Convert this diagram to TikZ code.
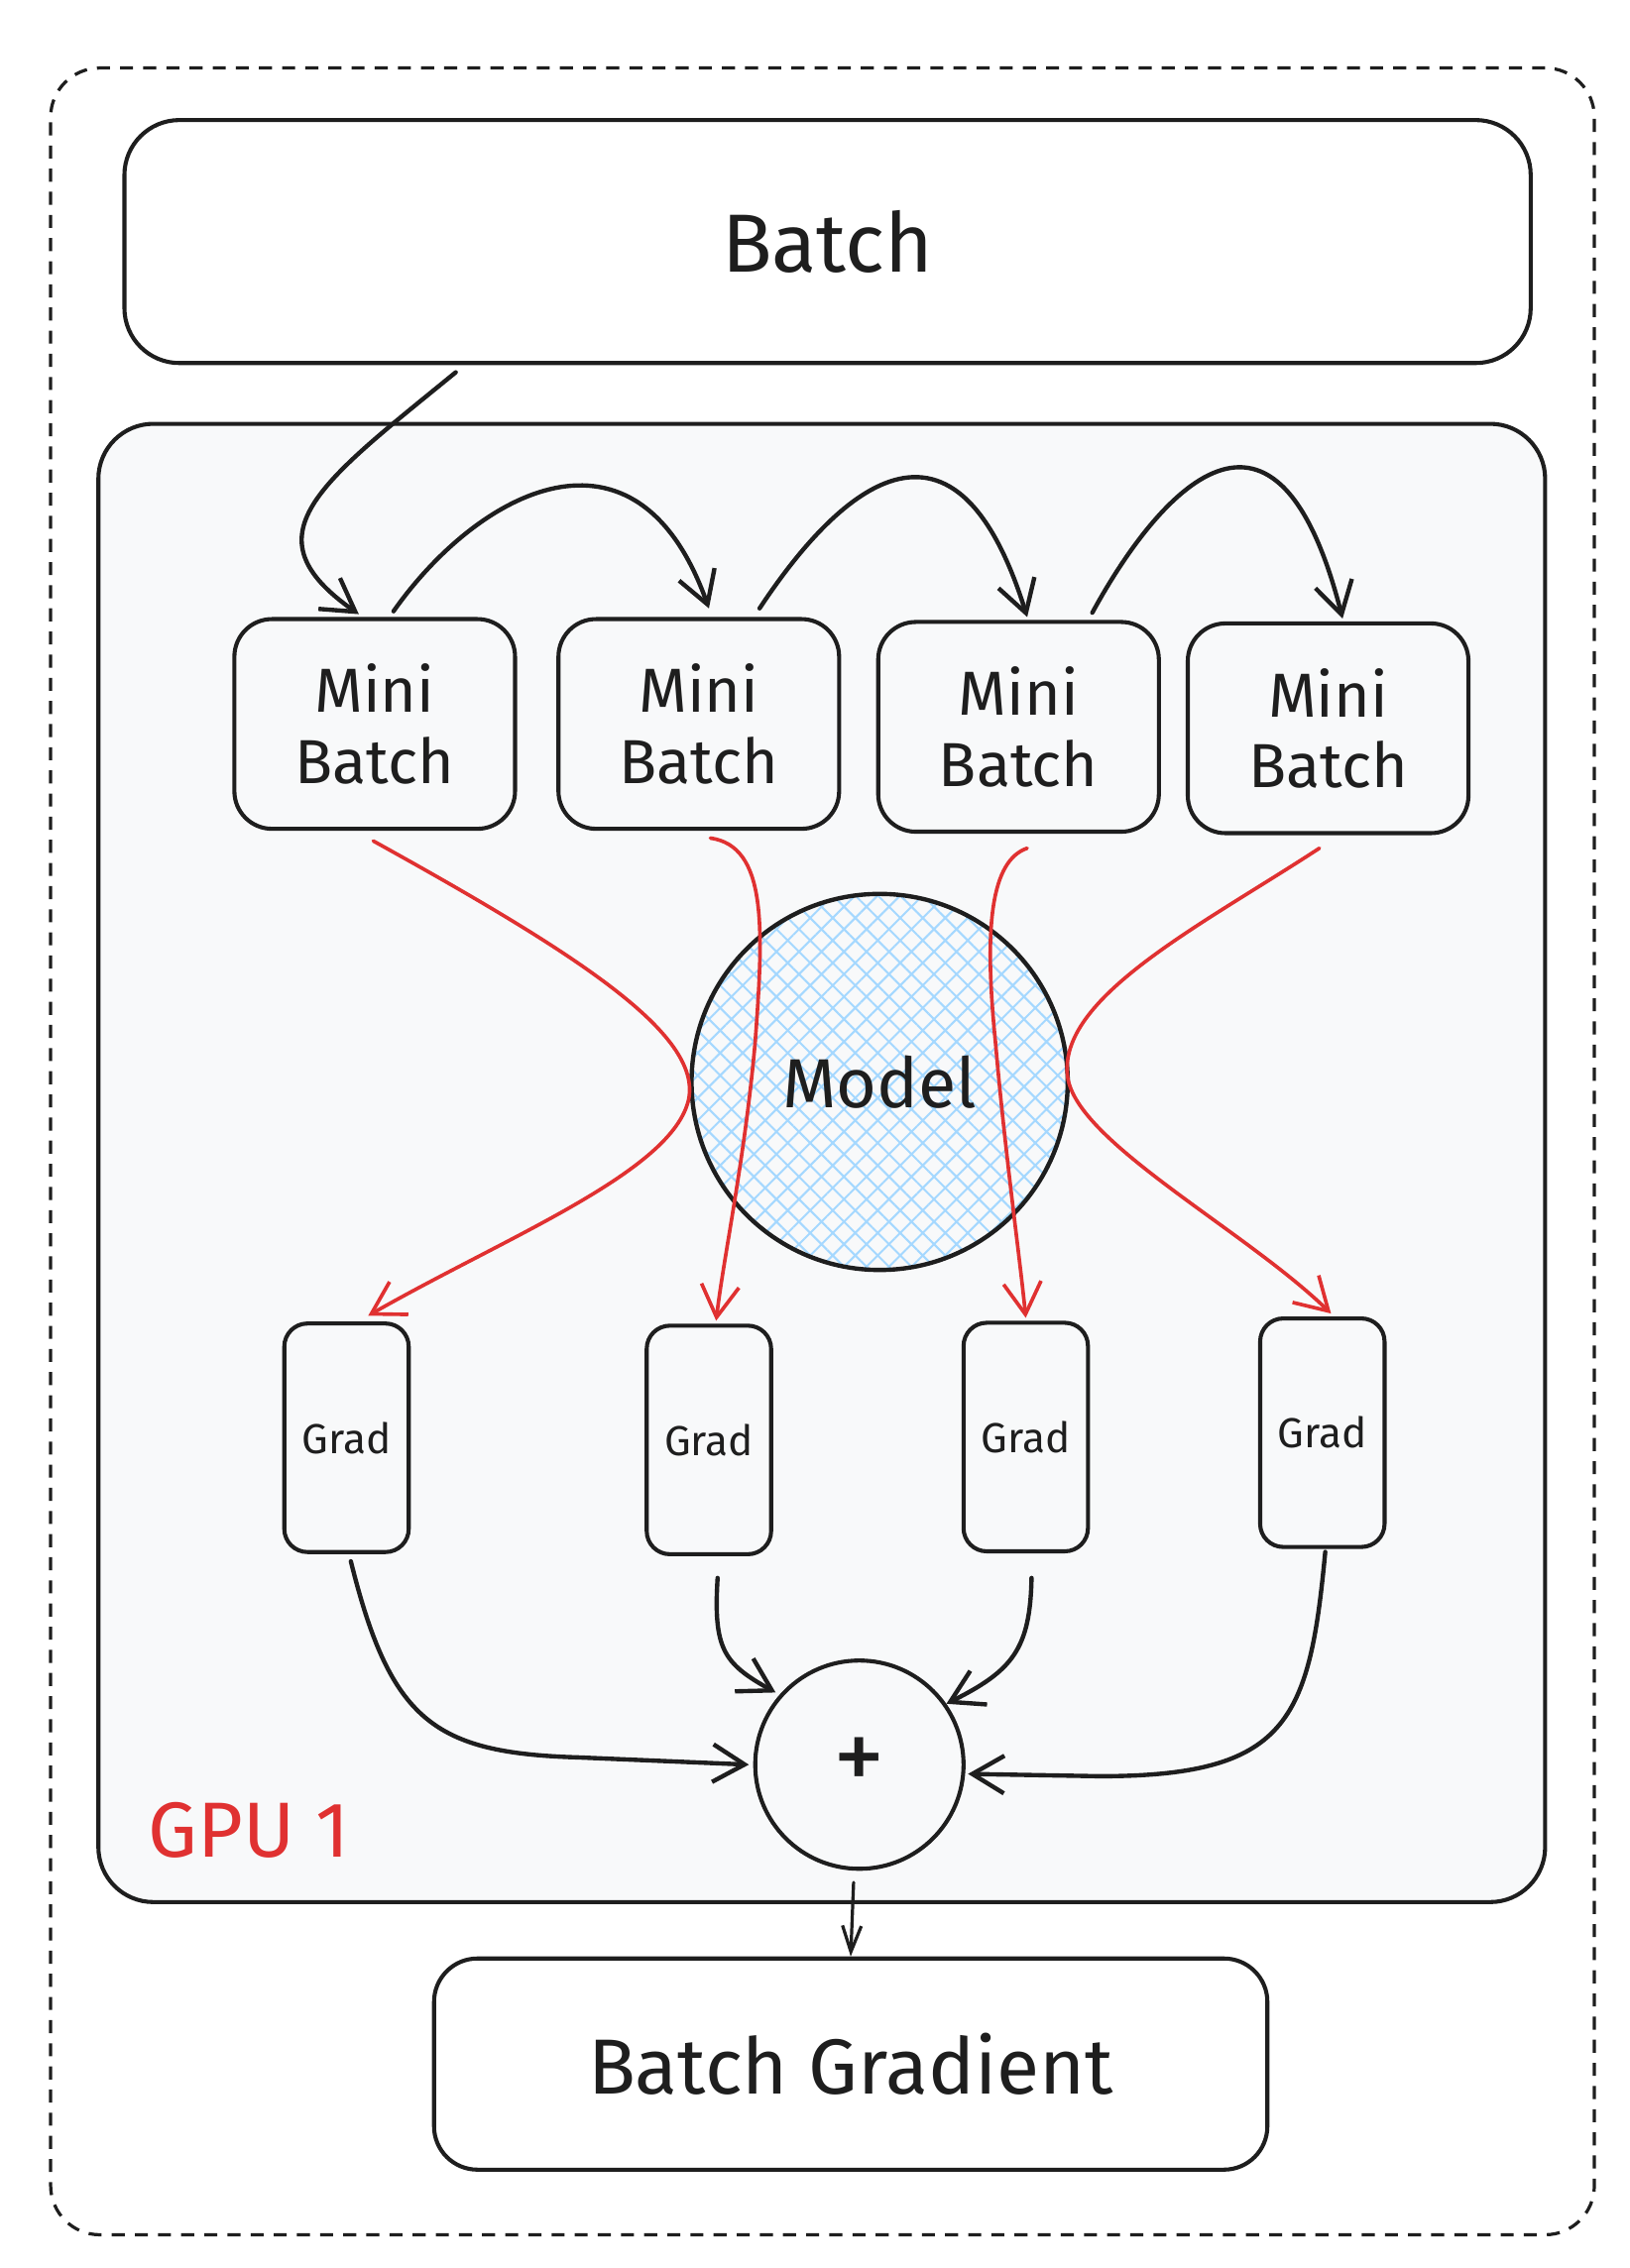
\documentclass[tikz,border=0pt]{standalone}
\usepackage{fontspec}
\setmainfont{Fira Sans}
\usetikzlibrary{arrows.meta,patterns.meta}
\definecolor{ink}{HTML}{1E1E1E}
\definecolor{redink}{HTML}{E03131}
\definecolor{gpubg}{HTML}{F8F9FA}
\definecolor{hatchblue}{HTML}{A5D8FF}
\tikzset{
  bigbox/.style={draw=ink, line width=2.8pt, rounded corners=38pt, inner sep=0pt, align=center, text=ink},
  minibox/.style={draw=ink, line width=2.8pt, rounded corners=26pt, inner sep=0pt, align=center, text=ink,
    minimum width=194pt, minimum height=145pt, font=\fontsize{43}{49}\selectfont},
  gradbox/.style={draw=ink, line width=2.8pt, rounded corners=16pt, inner sep=0pt, align=center, text=ink,
    minimum width=86pt, minimum height=158pt, font=\fontsize{29}{32}\selectfont},
  blk/.style={draw=ink, line width=3pt, line cap=round, -{Straight Barb[length=22pt,width=26pt,line width=3pt]}},
  blkthin/.style={draw=ink, line width=2.2pt, line cap=round, -{Straight Barb[length=18pt,width=13pt,line width=2.2pt]}},
  redarr/.style={draw=redink, line width=2.5pt, line cap=round, -{Straight Barb[length=22pt,width=26pt,line width=2.5pt]}},
}
\begin{document}
\begin{tikzpicture}[x=1pt,y=-1pt]
\useasboundingbox (0,0) rectangle (1126,1568);
\fill[white] (0,0) rectangle (1126,1568);
% outer dashed container
\node[draw=ink, line width=2.2pt, dash pattern=on 9pt off 7pt, rounded corners=34pt,
      minimum width=1067pt, minimum height=1498pt, inner sep=0pt] (outer) at (568.5,796) {};
% GPU container
\node[bigbox, fill=gpubg, minimum width=1000pt, minimum height=1022pt] (gpu) at (568,804) {};
% Batch
\node[bigbox, fill=white, minimum width=972pt, minimum height=168pt, font=\fontsize{57}{60}\selectfont] (batch) at (572,167) {Batch};
% Mini batches
\node[minibox] (mb1) at (259,500.5) {Mini\\Batch};
\node[minibox] (mb2) at (483,500.5) {Mini\\Batch};
\node[minibox] (mb3) at (704,502.5) {Mini\\Batch};
\node[minibox] (mb4) at (918,503.5) {Mini\\Batch};
% Model
\node[circle, draw=ink, line width=3pt, minimum size=260pt, inner sep=0pt,
      pattern={Hatch[angle=45,distance=11pt,line width=1.4pt]}, pattern color=hatchblue] (model) at (608,748) {};
% Grads
\node[gradbox] (g1) at (239.5,994) {Grad};
\node[gradbox] (g2) at (490,995.5) {Grad};
\node[gradbox] (g3) at (709,993.5) {Grad};
\node[gradbox] (g4) at (914,990.5) {Grad};
% Plus
\node[circle, draw=ink, line width=2.8pt, minimum size=144pt, inner sep=0pt, text=ink,
      font=\fontsize{72}{74}\selectfont] (plus) at (594,1220) {+};
% GPU label
\node[text=redink, font=\fontsize{54}{58}\selectfont] (gpulabel) at (172,1265) {GPU 1};
% Batch Gradient
\node[bigbox, fill=white, rounded corners=30pt, minimum width=576pt, minimum height=146pt,
      font=\fontsize{54}{58}\selectfont] (bgrad) at (588,1427) {Batch Gradient};

% black connectors at top
\draw[blk] ([xshift=-257pt,yshift=-5pt]batch.south) .. controls (220,335) and (170,370) .. ([xshift=-11pt,yshift=2pt]mb1.north);
\draw[blk] ([xshift=13pt,yshift=4pt]mb1.north) .. controls (330,340) and (440,280) .. ([xshift=7pt,yshift=6pt]mb2.north);
\draw[blk] ([xshift=42pt,yshift=6pt]mb2.north) .. controls (565,360) and (655,250) .. ([xshift=6pt,yshift=2pt]mb3.north);
\draw[blk] ([xshift=51pt,yshift=5pt]mb3.north) .. controls (795,350) and (880,240) .. ([xshift=10pt,yshift=2pt]mb4.north);

% red connectors through the model
\draw[redarr] ([xshift=-1pt,yshift=-7pt]mb1.south) .. controls (400,660) and (485,715) .. (476,760)
   .. controls (465,810) and (350,855) .. ([xshift=15pt,yshift=4pt]g1.north);
\draw[redarr] ([xshift=8pt,yshift=-5pt]mb2.south) .. controls (530,585) and (528,640) .. (522,720)
   .. controls (515,800) and (500,870) .. ([xshift=5pt,yshift=2pt]g2.north);
\draw[redarr] ([xshift=6pt,yshift=-10pt]mb3.south) .. controls (685,595) and (680,640) .. (688,720)
   .. controls (695,800) and (705,870) .. ([yshift=2pt]g3.north);
\draw[redarr] ([xshift=-6pt,yshift=-9pt]mb4.south) .. controls (830,640) and (730,690) .. (738,745)
   .. controls (745,790) and (860,850) .. ([xshift=6pt,yshift=2pt]g4.north);

% Model text on top
\node[text=ink, font=\fontsize{48}{52}\selectfont] (modeltext) at (model.center) {Model};

% grads into plus
\draw[blk] ([xshift=3pt,yshift=-5pt]g1.south) .. controls (270,1190) and (300,1212) .. (400,1215) -- ([xshift=-3pt]plus.west);
\draw[blk] ([xshift=6pt,yshift=-15pt]g2.south) .. controls (493,1140) and (500,1150) .. ([xshift=-6pt,yshift=-2pt]plus.north west);
\draw[blk] ([xshift=4pt,yshift=-17pt]g3.south) .. controls (712,1140) and (700,1155) .. (plus.35);
\draw[blk] ([xshift=2pt,yshift=-2pt]g4.south) .. controls (905,1190) and (890,1228) .. (760,1228) -- ([xshift=2pt]plus.-5);
% plus to batch gradient
\draw[blkthin] ([xshift=-4pt,yshift=-8pt]plus.south) -- (bgrad.north);
\end{tikzpicture}
\end{document}
